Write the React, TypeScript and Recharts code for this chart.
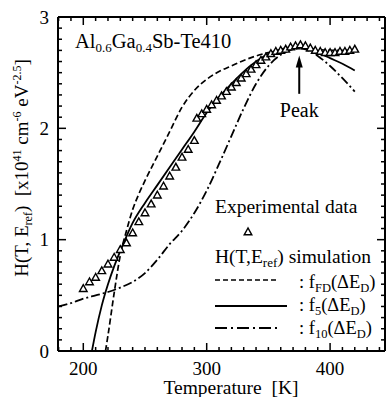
import {
  ComposedChart,
  Line,
  Scatter,
  XAxis,
  YAxis,
  ReferenceLine,
  ReferenceDot,
} from "recharts";

const FONT = "Liberation Serif, DejaVu Serif, Times New Roman, serif";

// experimental points (open triangles)
const expT = [
  200, 205, 210, 215, 220, 225, 230, 235, 240, 245, 250, 255, 260, 265, 270, 275, 280, 285, 290,
  292, 296, 300, 304, 308, 312, 316, 320, 324, 328, 332, 336, 340, 344, 348, 352, 356, 360, 364,
  368, 372, 376, 380, 384, 388, 392, 396, 400, 404, 408, 412, 416, 420,
];
const expH = [
  0.56, 0.62, 0.66, 0.72, 0.78, 0.84, 0.91, 0.97, 1.06, 1.16, 1.24, 1.32, 1.4, 1.48, 1.57, 1.65, 1.74, 1.81, 1.89,
  2.09, 2.13, 2.17, 2.21, 2.25, 2.29, 2.33, 2.37, 2.41, 2.45, 2.49, 2.53, 2.57, 2.61, 2.64, 2.67, 2.69, 2.7, 2.71,
  2.73, 2.74, 2.75, 2.74, 2.72, 2.7, 2.69, 2.68, 2.68, 2.68, 2.69, 2.69, 2.7, 2.71,
];

// simulation f_FD (dashed)
const fdT = [218, 220, 225, 230, 235, 240, 245, 250, 260, 270, 280, 290, 300, 310, 320, 330, 340, 350, 360, 370, 380, 390, 400, 410, 420];
const fdH = [0, 0.14, 0.52, 0.86, 1.08, 1.27, 1.41, 1.53, 1.75, 1.97, 2.19, 2.34, 2.44, 2.51, 2.56, 2.61, 2.65, 2.68, 2.7, 2.72, 2.72, 2.71, 2.7, 2.7, 2.7];

// simulation f_5 (solid)
const f5T = [207, 210, 215, 220, 225, 230, 235, 240, 250, 260, 270, 280, 290, 300, 310, 320, 330, 340, 350, 360, 370, 380, 390, 400, 410, 420];
const f5H = [0, 0.17, 0.41, 0.6, 0.76, 0.9, 1.03, 1.15, 1.33, 1.49, 1.65, 1.81, 1.97, 2.14, 2.28, 2.4, 2.51, 2.6, 2.67, 2.71, 2.73, 2.72, 2.68, 2.63, 2.58, 2.52];

// simulation f_10 (dash-dot)
const f10T = [180, 190, 200, 210, 220, 230, 240, 250, 260, 270, 280, 290, 300, 310, 320, 330, 340, 350, 360, 370, 375, 380, 390, 400, 410, 420];
const f10H = [0.4, 0.43, 0.47, 0.5, 0.53, 0.57, 0.62, 0.7, 0.82, 0.96, 1.08, 1.24, 1.44, 1.68, 1.93, 2.18, 2.4, 2.56, 2.66, 2.71, 2.72, 2.71, 2.65, 2.56, 2.45, 2.33];

const xTicks = [180, 190, 200, 210, 220, 230, 240, 250, 260, 270, 280, 290, 300, 310, 320, 330, 340, 350, 360, 370, 380, 390, 400, 410, 420, 430, 440];
const xLabels = [200, 300, 400];
const yTicks = [
  0, 0.1, 0.2, 0.3, 0.4, 0.5, 0.6, 0.7, 0.8, 0.9, 1, 1.1, 1.2, 1.3, 1.4, 1.5, 1.6, 1.7, 1.8, 1.9,
  2, 2.1, 2.2, 2.3, 2.4, 2.5, 2.6, 2.7, 2.8, 2.9, 3,
];
const yLabels = [0, 1, 2, 3];

const peakT = 375;

const rows = (ts: number[], hs: number[]) => ts.map((T, i) => ({ T, v: hs[i] }));

const isLabelY = (v: number) => yLabels.some((l) => Math.abs(l - v) < 1e-6);

const txt = { fontFamily: FONT, fill: "#000" };

function BottomTick({ x, y, payload }: any) {
  const major = xLabels.includes(payload.value);
  return (
    <g>
      <line x1={x} x2={x} y1={y} y2={y - (major ? 8 : 4)} stroke="#000" strokeWidth={1.5} />
      {major && (
        <text x={x} y={y + 24} textAnchor="middle" fontSize={19} style={txt}>
          {payload.value}
        </text>
      )}
    </g>
  );
}

function TopTick({ x, y, payload }: any) {
  const major = xLabels.includes(payload.value);
  return <line x1={x} x2={x} y1={y} y2={y + (major ? 8 : 4)} stroke="#000" strokeWidth={1.5} />;
}

function LeftTick({ x, y, payload }: any) {
  const major = isLabelY(payload.value);
  return (
    <g>
      <line x1={x} x2={x + (major ? 8 : 4)} y1={y} y2={y} stroke="#000" strokeWidth={1.5} />
      {major && (
        <text x={x - 9} y={y} dy="0.35em" textAnchor="end" fontSize={19} style={txt}>
          {Math.round(payload.value)}
        </text>
      )}
    </g>
  );
}

function RightTick({ x, y, payload }: any) {
  const major = isLabelY(payload.value);
  return <line x1={x} x2={x - (major ? 8 : 4)} y1={y} y2={y} stroke="#000" strokeWidth={1.5} />;
}

function Triangle({ cx, cy }: any) {
  if (cx == null || cy == null) return null;
  return (
    <polygon
      points={`${cx},${cy - 4} ${cx - 3.8},${cy + 2.8} ${cx + 3.8},${cy + 2.8}`}
      fill="#fff"
      stroke="#000"
      strokeWidth={1.4}
    />
  );
}

function Annotations() {
  return (
    <g>
      <text x={75} y={48} fontSize={20.5} style={txt}>
        Al<tspan fontSize={13} dy={4}>0.6</tspan>
        <tspan dy={-4}>Ga</tspan>
        <tspan fontSize={13} dy={4}>0.4</tspan>
        <tspan dy={-4}>Sb-Te410</tspan>
      </text>

      <text transform="translate(28,168) rotate(-90)" textAnchor="middle" fontSize={19} style={{ ...txt, whiteSpace: "pre" }}>
        H(T, E<tspan fontSize={12} dy={4}>ref</tspan>
        <tspan dy={-4}>{")  [x10"}</tspan>
        <tspan fontSize={12} dy={-7}>41</tspan>
        <tspan dy={7}> cm</tspan>
        <tspan fontSize={12} dy={-7}>-6</tspan>
        <tspan dy={7}> eV</tspan>
        <tspan fontSize={12} dy={-7}>-2.5</tspan>
        <tspan dy={7}>]</tspan>
      </text>

      <text x={231} y={394} textAnchor="middle" fontSize={19.5} style={{ ...txt, whiteSpace: "pre" }}>
        {"Temperature  [K]"}
      </text>

      <text x={215} y={213} fontSize={19.5} style={txt}>Experimental data</text>
      <Triangle cx={248} cy={232} />
      <text x={215} y={263} fontSize={19.5} style={txt}>
        H(T,E<tspan fontSize={13} dy={4}>ref</tspan>
        <tspan dy={-4}>) simulation</tspan>
      </text>

      <line x1={215} x2={278} y1={280} y2={280} stroke="#000" strokeWidth={1.6} strokeDasharray="5 3" />
      <text x={299} y={288} fontSize={18.5} style={txt}>
        : f<tspan fontSize={12.5} dy={4}>FD</tspan>
        <tspan dy={-4}>(ΔE</tspan>
        <tspan fontSize={12.5} dy={4}>D</tspan>
        <tspan dy={-4}>)</tspan>
      </text>

      <line x1={215} x2={287} y1={306} y2={306} stroke="#000" strokeWidth={1.8} />
      <text x={299} y={311} fontSize={18.5} style={txt}>
        : f<tspan fontSize={12.5} dy={4}>5</tspan>
        <tspan dy={-4}>(ΔE</tspan>
        <tspan fontSize={12.5} dy={4}>D</tspan>
        <tspan dy={-4}>)</tspan>
      </text>

      <line x1={215} x2={280} y1={328} y2={328} stroke="#000" strokeWidth={1.8} strokeDasharray="12 4 2 4" />
      <text x={299} y={334} fontSize={18.5} style={txt}>
        : f<tspan fontSize={12.5} dy={4}>10</tspan>
        <tspan dy={-4}>(ΔE</tspan>
        <tspan fontSize={12.5} dy={4}>D</tspan>
        <tspan dy={-4}>)</tspan>
      </text>
    </g>
  );
}

export default function App() {
  return (
    <div style={{ width: 390, height: 397 }}>
      <style>{`body{margin:0;}`}</style>
      <ComposedChart width={390} height={397} margin={{ top: 0, right: 0, bottom: 0, left: 0 }}>
        <XAxis
          xAxisId="b"
          dataKey="T"
          type="number"
          domain={[179.5, 444.5]}
          allowDataOverflow
          ticks={xTicks}
          interval={0}
          tick={<BottomTick />}
          tickSize={0}
          tickMargin={0}
          tickLine={false}
          axisLine={{ stroke: "#000", strokeWidth: 2 }}
          height={46}
        />
        <XAxis
          xAxisId="t"
          orientation="top"
          dataKey="T"
          type="number"
          domain={[179.5, 444.5]}
          allowDataOverflow
          ticks={xTicks}
          interval={0}
          tick={<TopTick />}
          tickSize={0}
          tickMargin={0}
          tickLine={false}
          axisLine={{ stroke: "#000", strokeWidth: 2 }}
          height={17}
        />
        <YAxis
          yAxisId="l"
          dataKey="v"
          type="number"
          domain={[0, 3]}
          allowDataOverflow
          ticks={yTicks}
          interval={0}
          tick={<LeftTick />}
          tickSize={0}
          tickMargin={0}
          tickLine={false}
          axisLine={{ stroke: "#000", strokeWidth: 2 }}
          width={58}
        />
        <YAxis
          yAxisId="r"
          orientation="right"
          dataKey="v"
          type="number"
          domain={[0, 3]}
          allowDataOverflow
          ticks={yTicks}
          interval={0}
          tick={<RightTick />}
          tickSize={0}
          tickMargin={0}
          tickLine={false}
          axisLine={{ stroke: "#000", strokeWidth: 2 }}
          width={5}
        />

        <Line xAxisId="b" yAxisId="l" data={rows(f10T, f10H)} dataKey="v" type="monotone" stroke="#000" strokeWidth={1.8} strokeDasharray="9 3 2 3" dot={false} isAnimationActive={false} />
        <Line xAxisId="b" yAxisId="l" data={rows(fdT, fdH)} dataKey="v" type="monotone" stroke="#000" strokeWidth={1.7} strokeDasharray="6 3" dot={false} isAnimationActive={false} />
        <Line xAxisId="b" yAxisId="l" data={rows(f5T, f5H)} dataKey="v" type="monotone" stroke="#000" strokeWidth={1.8} dot={false} isAnimationActive={false} />
        <Scatter xAxisId="b" yAxisId="l" data={rows(expT, expH)} dataKey="v" shape={<Triangle />} isAnimationActive={false} />

        <ReferenceLine
          xAxisId="b"
          yAxisId="l"
          segment={[{ x: peakT, y: 2.31 }, { x: peakT, y: 2.56 }]}
          stroke="#000"
          strokeWidth={2}
        />
        <ReferenceDot
          xAxisId="b"
          yAxisId="l"
          x={peakT}
          y={2.655}
          shape={(p: any) => (
            <polygon points={`${p.cx},${p.cy} ${p.cx - 3.5},${p.cy + 12} ${p.cx + 3.5},${p.cy + 12}`} fill="#000" />
          )}
        />
        <ReferenceDot
          xAxisId="b"
          yAxisId="l"
          x={peakT}
          y={2.1}
          shape={(p: any) => (
            <text x={p.cx} y={p.cy} textAnchor="middle" fontSize={20} style={txt}>
              Peak
            </text>
          )}
        />

        <Annotations />
      </ComposedChart>
    </div>
  );
}
